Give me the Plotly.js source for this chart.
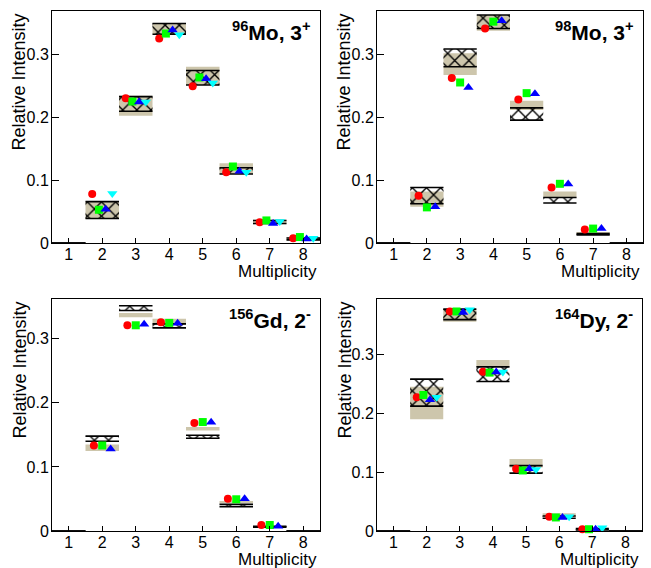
<!DOCTYPE html>
<html>
<head>
<meta charset="utf-8">
<script src="https://cdn.plot.ly/plotly-3.0.1.min.js"></script>
<style>html,body{margin:0;padding:0;background:#fff;} #chart{width:651px;height:568px;}</style>
</head>
<body>
<div id="chart"></div>
<script>
// ---------- data ----------
const bins = [1, 2, 3, 4, 5, 6, 7, 8];
const xTickLabels = ["1", "2", "3", "4", "5", "6", "7", "8"];
const yTickVals = [0, 0.1, 0.2, 0.3];
const yTickLabels = ["0", "0.1", "0.2", "0.3"];
const panelTitles = ["<sup>96</sup>Mo, 3<sup>+</sup>", "<sup>98</sup>Mo, 3<sup>+</sup>", "<sup>156</sup>Gd, 2<sup>-</sup>", "<sup>164</sup>Dy, 2<sup>-</sup>"];
const xTitle = "Multiplicity";
const yTitle = "Relative Intensity";

// 96Mo, 3+
const mo96TanLo   = [0, 0.039, 0.203, 0.333, 0.252, 0.110, 0.030, 0.004];
const mo96TanHi   = [0, 0.066, 0.235, 0.350, 0.281, 0.127, 0.037, 0.009];
const mo96HatchLo = [0, 0.039, 0.210, 0.333, 0.252, 0.110, 0.031, 0.005];
const mo96HatchHi = [0, 0.066, 0.2335, 0.350, 0.275, 0.120, 0.036, 0.008];
const mo96Red   = [null, 0.078, 0.231, 0.326, 0.250, 0.113, 0.033, 0.0074];
const mo96Green = [null, 0.053, 0.2256, 0.334, 0.264, 0.122, 0.036, 0.0095];
const mo96Blue  = [null, 0.054, 0.225, 0.3397, 0.262, 0.1146, 0.031, 0.0064];
const mo96Cyan  = [null, 0.079, 0.225, 0.332, 0.255, 0.113, 0.0344, 0.0074];

// 98Mo, 3+
const mo98TanLo   = [0, 0.058, 0.268, 0.3386, 0.212, 0.0726, 0.013, 0];
const mo98TanHi   = [0, 0.082, 0.3025, 0.3636, 0.227, 0.082, 0.0175, 0];
const mo98HatchLo = [0, 0.0626, 0.281, 0.342, 0.196, 0.0637, 0.013, 0];
const mo98HatchHi = [0, 0.0886, 0.3095, 0.3636, 0.2155, 0.0726, 0.015, 0];
const mo98Red   = [null, 0.0754, 0.263, 0.342, 0.229, 0.0886, 0.0217, null];
const mo98Green = [null, 0.0568, 0.256, 0.353, 0.239, 0.0944, 0.023, null];
const mo98Blue  = [null, 0.058, 0.248, 0.3546, 0.238, 0.094, 0.023, null];

// 156Gd, 2-
const gdTanLo   = [0, 0.1247, 0.3335, 0.3216, 0.157, 0.0432, 0.0052, 0];
const gdTanHi   = [0, 0.135, 0.340, 0.331, 0.1624, 0.0469, 0.0078, 0];
const gdHatchLo = [0, 0.140, 0.344, 0.317, 0.1448, 0.038, 0.006, 0];
const gdHatchHi = [0, 0.148, 0.3515, 0.3232, 0.1495, 0.0417, 0.0075, 0];
const gdRed   = [null, 0.1335, 0.321, 0.3258, 0.1686, 0.0505, 0.0094, null];
const gdGreen = [null, 0.1335, 0.321, 0.3247, 0.170, 0.0495, 0.0094, null];
const gdBlue  = [null, 0.128, 0.3227, 0.324, 0.1696, 0.0505, 0.0073, null];

// 164Dy, 2-
const dyTanLo   = [0, 0.1896, 0.3555, 0.2787, 0.108, 0.0238, 0.0017, 0];
const dyTanHi   = [0, 0.245, 0.3768, 0.2905, 0.1224, 0.030, 0.004, 0];
const dyHatchLo = [0, 0.212, 0.359, 0.254, 0.0983, 0.0216, 0.0017, 0];
const dyHatchHi = [0, 0.258, 0.3768, 0.2787, 0.111, 0.0255, 0.004, 0];
const dyRed   = [null, 0.227, 0.3728, 0.2703, 0.1056, 0.024, 0.003, null];
const dyGreen = [null, 0.231, 0.3728, 0.269, 0.1028, 0.023, 0.003, null];
const dyBlue  = [null, 0.223, 0.371, 0.270, 0.1056, 0.023, 0.003, null];
const dyCyan  = [null, 0.227, 0.3756, 0.270, 0.1045, 0.024, 0.0056, null];

// ---------- styling ----------
const FONT = "Liberation Sans, Arial, sans-serif";
const TAN = "rgb(205,198,172)";
const seriesStyle = [
  {symbol: "circle", color: "#ff0000", size: 8},
  {symbol: "square", color: "#00ff00", size: 8},
  {symbol: "triangle-up", color: "#0000ff", size: 9},
  {symbol: "triangle-down", color: "#00ffff", size: 9}
];

const panels = [
  {tanLo: mo96TanLo, tanHi: mo96TanHi, hLo: mo96HatchLo, hHi: mo96HatchHi, series: [mo96Red, mo96Green, mo96Blue, mo96Cyan], offs: [-0.3, -0.1, 0.1, 0.3], yMax: 0.37},
  {tanLo: mo98TanLo, tanHi: mo98TanHi, hLo: mo98HatchLo, hHi: mo98HatchHi, series: [mo98Red, mo98Green, mo98Blue], offs: [-0.25, 0, 0.25], yMax: 0.37},
  {tanLo: gdTanLo, tanHi: gdTanHi, hLo: gdHatchLo, hHi: gdHatchHi, series: [gdRed, gdGreen, gdBlue], offs: [-0.25, 0, 0.25], yMax: 0.362},
  {tanLo: dyTanLo, tanHi: dyTanHi, hLo: dyHatchLo, hHi: dyHatchHi, series: [dyRed, dyGreen, dyBlue, dyCyan], offs: [-0.3, -0.1, 0.1, 0.3], yMax: 0.394}
];

const W = 651, H = 568;
// pixel frames [left, right, top, bottom]
const frames = [[52, 320, 11, 243], [377, 643, 11, 243], [52, 320, 299, 531], [377, 642, 299, 531]];

const traces = [];
const layout = {
  width: W, height: H,
  margin: {l: 0, r: 0, t: 0, b: 0},
  paper_bgcolor: "#fff", plot_bgcolor: "#fff",
  showlegend: false,
  barmode: "overlay",
  font: {family: FONT, color: "#000"},
  annotations: []
};

panels.forEach((p, i) => {
  const n = i === 0 ? "" : String(i + 1);
  const xa = "x" + n, ya = "y" + n;
  const f = frames[i];
  layout["xaxis" + n] = {
    domain: [f[0] / W, f[1] / W], anchor: ya,
    range: [0.5, 8.5], tickvals: bins, ticktext: xTickLabels,
    showline: true, mirror: true, linecolor: "#000", linewidth: 1,
    ticks: "inside", ticklen: 5, tickcolor: "#000", ticklabelstandoff: -3,
    showgrid: false, zeroline: false, fixedrange: true,
    tickfont: {size: 16, family: FONT}
  };
  layout["yaxis" + n] = {
    domain: [1 - f[3] / H, 1 - f[2] / H], anchor: xa,
    range: [0, p.yMax], tickvals: yTickVals, ticktext: yTickLabels,
    showline: true, mirror: true, linecolor: "#000", linewidth: 1,
    ticks: "inside", ticklen: 7, tickcolor: "#000", ticklabelstandoff: -1,
    showgrid: false, zeroline: false, fixedrange: true,
    tickfont: {size: 16, family: FONT}
  };
  // tan boxes
  traces.push({
    type: "bar", x: bins, base: p.tanLo, y: bins.map((b, k) => p.tanHi[k] - p.tanLo[k]),
    width: 1, xaxis: xa, yaxis: ya, hoverinfo: "skip",
    marker: {color: TAN, line: {width: 0}}
  });
  // hatched boxes
  traces.push({
    type: "bar", x: bins, base: p.hLo, y: bins.map((b, k) => p.hHi[k] - p.hLo[k]),
    width: 1, xaxis: xa, yaxis: ya, hoverinfo: "skip",
    marker: {color: "rgba(0,0,0,0)", line: {width: 0},
      pattern: {shape: "x", fgcolor: "#000", fgopacity: 1, bgcolor: "rgba(0,0,0,0)", size: 10, solidity: 0.25, fillmode: "overlay"}}
  });
  // black edges of hatched boxes
  const lx = [], ly = [];
  bins.forEach((b, k) => {
    lx.push(b - 0.5, b + 0.5, null, b - 0.5, b + 0.5, null);
    ly.push(p.hLo[k], p.hLo[k], null, p.hHi[k], p.hHi[k], null);
  });
  traces.push({type: "scatter", mode: "lines", x: lx, y: ly, xaxis: xa, yaxis: ya,
    line: {color: "#000", width: 1.6}, hoverinfo: "skip", connectgaps: false});
  // markers
  p.series.forEach((s, j) => {
    const st = seriesStyle[j];
    traces.push({
      type: "scatter", mode: "markers", x: bins.map(b => b + p.offs[j]), y: s,
      xaxis: xa, yaxis: ya, cliponaxis: false,
      marker: {symbol: st.symbol, color: st.color, size: st.size, line: {width: 0}}
    });
  });
  // titles
  layout.annotations.push({
    xref: "paper", yref: "paper", x: (f[0] - 33) / W, y: 1 - (f[2] + 1) / H,
    xanchor: "center", yanchor: "top", textangle: -90, showarrow: false,
    text: yTitle, font: {size: 18, family: FONT}
  });
  layout.annotations.push({
    xref: "paper", yref: "paper", x: (f[1] - 1) / W, y: 1 - (f[3] + 28) / H,
    xanchor: "right", yanchor: "middle", showarrow: false,
    text: xTitle, font: {size: 17, family: FONT}
  });
  layout.annotations.push({
    xref: "paper", yref: "paper", x: (f[1] - 7) / W, y: 1 - (f[2] + 5) / H,
    xanchor: "right", yanchor: "top", showarrow: false,
    text: "<b>" + panelTitles[i] + "</b>", font: {size: 21, family: FONT}
  });
});

Plotly.newPlot("chart", traces, layout, {staticPlot: true, displayModeBar: false});
</script>
</body>
</html>
